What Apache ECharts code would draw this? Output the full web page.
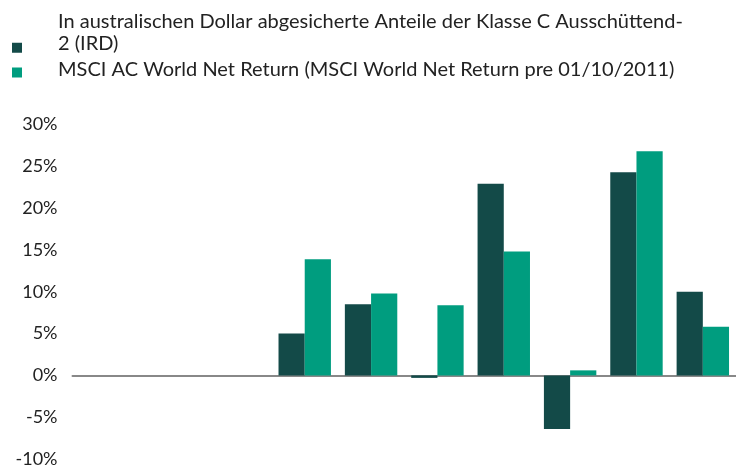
<!DOCTYPE html>
<html>
<head>
<meta charset="utf-8">
<script src="https://cdn.jsdelivr.net/npm/echarts@6/dist/echarts.min.js"></script>
<style>
  html, body { margin: 0; padding: 0; background: #fff; }
  #chart { width: 736px; height: 468px; }
</style>
</head>
<body>
<div id="chart"></div>
<script>
var years = ['2015', '2016', '2017', '2018', '2019', '2020', '2021', '2022', '2023', '2024'];
var fundName = 'In australischen Dollar abgesicherte Anteile der Klasse C Ausschüttend-2 (IRD)';
var indexName = 'MSCI AC World Net Return (MSCI World Net Return pre 01/10/2011)';
var fundValues = [null, null, null, 5.0, 8.5, -0.3, 22.9, -6.4, 24.3, 10.0];
var indexValues = [null, null, null, 13.9, 9.8, 8.4, 14.8, 0.6, 26.8, 5.8];
var yTicks = { min: -10, max: 30, interval: 5 };

var chart = echarts.init(document.getElementById('chart'));
var font = 'Lato';

// legend text style, shared by both legend blocks
var legendText = {
    fontFamily: font,
    fontSize: 20,
    lineHeight: 22,
    color: '#222',
    padding: [0, 0, 0, 31]
};

var option = {
    animation: false,
    color: ['#134a48', '#009d7f'],
    legend: [
        {
            // two-line entry: square sits at the second line
            orient: 'vertical',
            left: 12,
            top: 11,
            padding: 0,
            itemWidth: 10,
            itemHeight: 44,
            selectedMode: false,
            textStyle: legendText,
            formatter: function (name) {
                return name.replace('Ausschüttend-', 'Ausschüttend-\n');
            },
            data: [{ name: fundName, icon: 'path://M0,0M0,29.5L10,29.5L10,39.5L0,39.5Z' }]
        },
        {
            orient: 'vertical',
            left: 12,
            top: 59,
            padding: 0,
            itemWidth: 10,
            itemHeight: 15,
            selectedMode: false,
            textStyle: legendText,
            data: [{ name: indexName, icon: 'path://M0,0M0,5L10,5L10,15L0,15Z' }]
        }
    ],
    grid: {
        left: 72.5,
        top: 124.5,
        width: 672,
        height: 338
    },
    xAxis: {
        type: 'category',
        data: years,
        axisLine: { onZero: true, lineStyle: { color: '#888', width: 2 } },
        axisTick: { show: false },
        axisLabel: { show: false },
        splitLine: { show: false }
    },
    yAxis: {
        type: 'value',
        min: yTicks.min,
        max: yTicks.max,
        interval: yTicks.interval,
        axisLine: { show: false },
        axisTick: { show: false },
        splitLine: { show: false },
        axisLabel: {
            formatter: '{value}%',
            fontFamily: font,
            fontSize: 18,
            color: '#222',
            margin: 15
        }
    },
    series: [
        {
            name: fundName,
            type: 'bar',
            barGap: '0%',
            barCategoryGap: '21%',
            data: fundValues
        },
        {
            name: indexName,
            type: 'bar',
            data: indexValues
        }
    ]
};
chart.setOption(option);
</script>
</body>
</html>
